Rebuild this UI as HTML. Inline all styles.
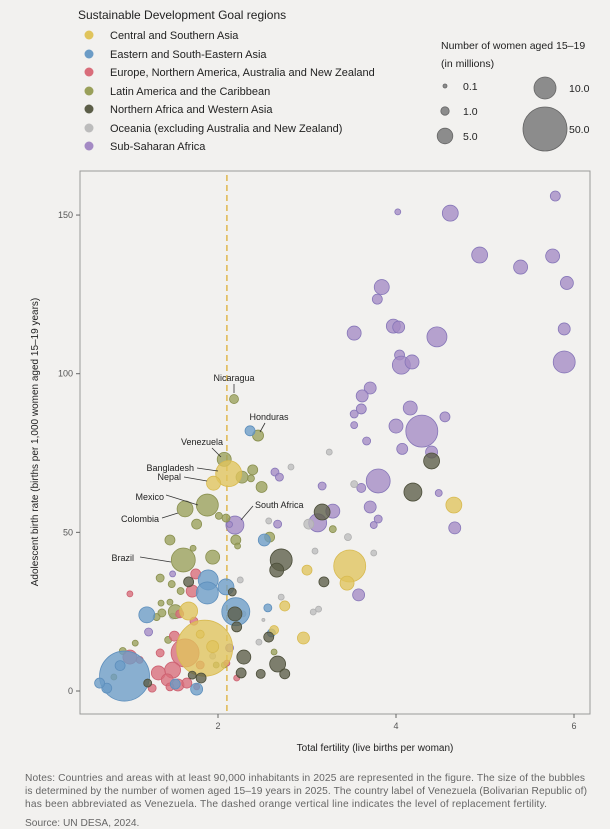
<!DOCTYPE html>
<html><head><meta charset="utf-8"><style>
body{margin:0;background:#f2f1ef;}
svg{display:block;font-family:"Liberation Sans",sans-serif;}
</style></head><body>
<svg id="chart" width="610" height="829" viewBox="0 0 610 829" xmlns="http://www.w3.org/2000/svg">
<rect width="610" height="829" fill="#f2f1ef"/>
<g font-size="11" fill="#222">
<text x="78" y="19" font-size="12">Sustainable Development Goal regions</text>
<g><circle cx="89" cy="35" r="4.5" fill="#e0c45c"/><text x="110" y="39">Central and Southern Asia</text></g>
<g><circle cx="89" cy="54" r="4.5" fill="#6c9cc6"/><text x="110" y="58">Eastern and South-Eastern Asia</text></g>
<g><circle cx="89" cy="72" r="4.5" fill="#d96d7a"/><text x="110" y="76">Europe, Northern America, Australia and New Zealand</text></g>
<g><circle cx="89" cy="91" r="4.5" fill="#9aa05a"/><text x="110" y="95">Latin America and the Caribbean</text></g>
<g><circle cx="89" cy="109" r="4.5" fill="#5c5e48"/><text x="110" y="113">Northern Africa and Western Asia</text></g>
<g><circle cx="89" cy="128" r="4.5" fill="#bcbcbc"/><text x="110" y="132">Oceania (excluding Australia and New Zealand)</text></g>
<g><circle cx="89" cy="146" r="4.5" fill="#a48ac4"/><text x="110" y="150">Sub-Saharan Africa</text></g>
</g>
<g font-size="10.5" fill="#222">
<text x="441" y="49">Number of women aged 15–19</text>
<text x="441" y="67">(in millions)</text>
<g fill="#8c8c8c" stroke="#666" stroke-width="0.8">
<circle cx="445" cy="86" r="2"/><circle cx="445" cy="111" r="4.2"/><circle cx="445" cy="136" r="7.8"/><circle cx="545" cy="88" r="11"/><circle cx="545" cy="129" r="22"/>
</g>
<text x="463" y="90">0.1</text><text x="463" y="115">1.0</text><text x="463" y="140">5.0</text><text x="569" y="92">10.0</text><text x="569" y="133">50.0</text>
</g>
<rect x="80" y="171" width="510" height="543" fill="none" stroke="#9a9a9a" stroke-width="1"/>
<g id="axes"></g>
<line id="repl" stroke="#e0b850" stroke-width="1.5" stroke-dasharray="6,4"/>
<g id="bubbles"></g>
<g font-size="9" fill="#222" stroke="none">
<g stroke="#333" stroke-width="0.8">
<line x1="234" y1="384" x2="234" y2="393"/><line x1="265" y1="423" x2="260" y2="432"/><line x1="212" y1="448" x2="221" y2="457"/><line x1="197" y1="468" x2="218" y2="471"/><line x1="184" y1="477" x2="207" y2="481"/><line x1="166" y1="495" x2="198" y2="505"/><line x1="162" y1="518" x2="178" y2="513"/><line x1="140" y1="557" x2="171" y2="562"/><line x1="253" y1="506" x2="241" y2="520"/>
</g>
<text x="234" y="381" text-anchor="middle">Nicaragua</text>
<text x="269" y="420" text-anchor="middle">Honduras</text>
<text x="202" y="445" text-anchor="middle">Venezuela</text>
<text x="194" y="471" text-anchor="end">Bangladesh</text>
<text x="181" y="480" text-anchor="end">Nepal</text>
<text x="164" y="500" text-anchor="end">Mexico</text>
<text x="159" y="522" text-anchor="end">Colombia</text>
<text x="134" y="561" text-anchor="end">Brazil</text>
<text x="255" y="508">South Africa</text>
</g>
<text x="375" y="751" text-anchor="middle" font-size="10" fill="#222">Total fertility (live births per woman)</text>
<text transform="translate(38,442) rotate(-90)" text-anchor="middle" font-size="10" fill="#222">Adolescent birth rate (births per 1,000 women aged 15–19 years)</text>
<g font-size="10.2" fill="#666">
<text x="25" y="781" textLength="560">Notes: Countries and areas with at least 90,000 inhabitants in 2025 are represented in the figure. The size of the bubbles</text>
<text x="25" y="794" textLength="562">is determined by the number of women aged 15–19 years in 2025. The country label of Venezuela (Bolivarian Republic of)</text>
<text x="25" y="807" textLength="522">has been abbreviated as Venezuela. The dashed orange vertical line indicates the level of replacement fertility.</text>
<text x="25" y="826">Source: UN DESA, 2024.</text>
</g>
</svg>
<script>
const xTicks=[2,4,6];
const yTicks=[0,50,100,150];
const replacementFertility=2.1;
const csaTfr=[1.85,3.48,3.45,2.12,1.95,3.0,4.65,2.75,2.63,2.96,1.67,1.94,1.8];
const csaAbr=[13.5,39.4,34,68.5,65.5,38.1,58.6,26.8,19.2,16.7,25.2,14,17.9];
const csaWomen=[81,25,4,16,4,1.78,5.4,1.78,1.36,2.78,7.1,2.78,1];
const esaTfr=[0.95,2.2,1.89,1.88,2.09,1.2,1.76,0.75,0.67,2.52,2.36,2.56,2.6,1.52,0.9];
const esaAbr=[4.7,25,35,30.9,32.8,24,0.6,0.9,2.5,47.6,82,26.2,18.3,2.2,8];
const esaWomen=[64,18.8,9,11.1,5.4,5.4,2.78,1.78,1.78,2.78,1.78,1,1,1.78,1.78];
const eurTfr=[1.63,1.49,1.33,1.43,1.55,1.01,1.51,1.71,1.75,1.01,1.73,1.57,1.35,1.12,2.1,1.8,1.65,1.46,1.76,2.21,1.26];
const eurAbr=[12,6.6,5.7,3.5,1.9,10.7,17.3,31.5,36.9,30.6,22,24.3,12,9.8,8.8,8.2,2.5,1.3,1.3,4.1,0.9];
const eurWomen=[18.8,5.4,4,2.78,2.78,4,1.78,2.78,1.78,0.44,1,1,1,0.69,0.44,1,1.78,1,0.44,0.44,1];
const latTfr=[2.18,2.45,2.07,1.88,1.63,1.61,1.35,1.48,1.58,1.46,1.36,1.52,1.37,1.31,1.07,0.93,1.44,0.83,1.94,1.46,1.72,2.01,2.09,1.76,2.2,2.22,2.39,2.37,2.27,2.49,2.58,3.29,2.63,1.98,2.07];
const latAbr=[92,80.5,73,58.6,57.4,41.3,35.6,33.7,31.5,28,27.7,25,24.6,23.3,15.1,12.6,16.1,4.4,42.2,47.6,45,55.2,54.5,52.6,47.6,45.7,69.7,67,67.4,64.3,48.5,51,12.3,8.2,8.2];
const latWomen=[1.36,2.25,4,11.1,5.4,13.4,1,0.69,0.69,0.44,0.44,4,1,0.69,0.44,0.69,0.69,0.44,4,1.78,0.44,0.69,1,1.78,1.78,0.44,1.78,0.69,2.78,2.25,1.78,0.69,0.44,0.44,0.44];
const nawTfr=[4.4,4.19,3.17,2.71,2.66,3.19,2.19,2.21,2.16,2.57,2.29,2.67,2.75,2.48,2.26,1.67,1.81,1.71,1.21];
const nawAbr=[72.5,62.7,56.4,41.3,38.1,34.4,24.3,20.2,31.2,17,10.7,8.5,5.4,5.4,5.7,34.4,4.1,5,2.5];
const nawWomen=[5.4,7.1,5.4,11.1,4,1.78,4,1.78,1,1.78,4,5.4,1.78,1.36,1.78,1.78,1.78,1,1];
const ocTfr=[3.25,3.53,3.02,3.46,2.82,2.57,3.09,3.75,2.25,2.71,3.07,3.13,2.46,2.28,2.51,1.94,1.49];
const ocAbr=[75.3,65.2,52.6,48.5,70.6,53.6,44.1,43.5,35,29.6,24.9,25.8,15.4,24.3,22.4,11,23.6];
const ocWomen=[0.44,0.69,1.78,0.69,0.44,0.44,0.44,0.44,0.44,0.44,0.44,0.44,0.44,0.44,0.03,0.44,0.44];
const ssaTfr=[3.84,3.79,3.97,4.03,3.53,4.46,4.04,4.06,4.18,3.71,3.62,3.61,3.53,3.53,4.16,4.55,4.0,4.29,3.67,4.07,4.4,3.8,3.17,3.61,4.48,3.71,3.29,3.12,3.8,3.75,4.66,5.79,4.61,4.94,5.76,5.4,5.92,5.89,5.89,4.02,2.64,2.69,2.67,2.19,2.13,3.58,1.22,2.13,1.49];
const ssaAbr=[127.3,123.5,115,114.7,112.8,111.6,105.9,102.7,103.7,95.5,93,88.9,87.3,83.8,89.2,86.4,83.5,81.9,78.8,76.3,75.3,66.2,64.6,64,62.4,58,56.7,53,54.2,52.3,51.4,156,150.6,137.4,137.1,133.6,128.6,114.1,103.7,151,69,67.4,52.6,52.3,52.5,30.3,18.6,13.6,36.9];
const ssaWomen=[4.7,1.78,4,2.78,4,9,1.78,7.1,4,2.78,2.78,1.78,1,0.69,4,1.78,4,25,1,2.25,2.78,13.4,1,1.36,0.69,2.78,4,7.1,1,0.69,2.78,1.78,5.4,5.4,4,4,3.36,2.78,11.1,0.44,1,1,1,7.1,0.44,2.78,1,1,0.44];

const NS='http://www.w3.org/2000/svg';
const xs=v=>40+89*v;
const ys=v=>691-3.173*v;
const rs=m=>1+3*Math.sqrt(m);
const axes=document.getElementById('axes');
xTicks.forEach(t=>{
  const l=document.createElementNS(NS,'line');
  l.setAttribute('x1',xs(t));l.setAttribute('x2',xs(t));l.setAttribute('y1',714);l.setAttribute('y2',718);l.setAttribute('stroke','#666');
  
  
  axes.appendChild(l);
  const tx=document.createElementNS(NS,'text');
  tx.setAttribute('x',xs(t));tx.setAttribute('y',729);tx.setAttribute('text-anchor','middle');tx.setAttribute('font-size','9');tx.setAttribute('fill','#555');
  tx.textContent=t;
  
  
  axes.appendChild(tx);
});
yTicks.forEach(t=>{
  const l=document.createElementNS(NS,'line');
  l.setAttribute('x1',76);l.setAttribute('x2',80);l.setAttribute('y1',ys(t));l.setAttribute('y2',ys(t));l.setAttribute('stroke','#666');
  
  
  axes.appendChild(l);
  const tx=document.createElementNS(NS,'text');
  tx.setAttribute('x',73);tx.setAttribute('y',ys(t)+3);tx.setAttribute('text-anchor','end');tx.setAttribute('font-size','9');tx.setAttribute('fill','#555');
  tx.textContent=t;
  
  
  axes.appendChild(tx);
});
const rl=document.getElementById('repl');
rl.setAttribute('x1',xs(replacementFertility));rl.setAttribute('x2',xs(replacementFertility));rl.setAttribute('y1',175);rl.setAttribute('y2',714);

const groups=[
 ['ssa',ssaTfr,ssaAbr,ssaWomen,'#a48ac4','#8676b8'],
 ['oceania',ocTfr,ocAbr,ocWomen,'#bdbdbd','#b0b0b0'],
 ['latin-america',latTfr,latAbr,latWomen,'#9aa05a','#8a9050'],
 ['europe-na',eurTfr,eurAbr,eurWomen,'#d96d7a','#cc6070'],
 ['eastern-se-asia',esaTfr,esaAbr,esaWomen,'#6c9cc6','#5e8fbc'],
 ['central-southern-asia',csaTfr,csaAbr,csaWomen,'#e0c45c','#d8ba50'],
 ['n-africa-w-asia',nawTfr,nawAbr,nawWomen,'#5c5e48','#4c4e3a']
];
const bg=document.getElementById('bubbles');
groups.forEach(g=>{
  const [name,tx,ab,wm,fill,stroke]=g;
  tx.forEach((t,i)=>{
    const c=document.createElementNS(NS,'circle');
    c.setAttribute('cx',xs(t));c.setAttribute('cy',ys(ab[i]));c.setAttribute('r',rs(wm[i]));
    c.setAttribute('fill',fill);c.setAttribute('fill-opacity','0.78');c.setAttribute('stroke',stroke);c.setAttribute('stroke-width','0.8');
    
    
    bg.appendChild(c);
  });
});
</script>
</body></html>
